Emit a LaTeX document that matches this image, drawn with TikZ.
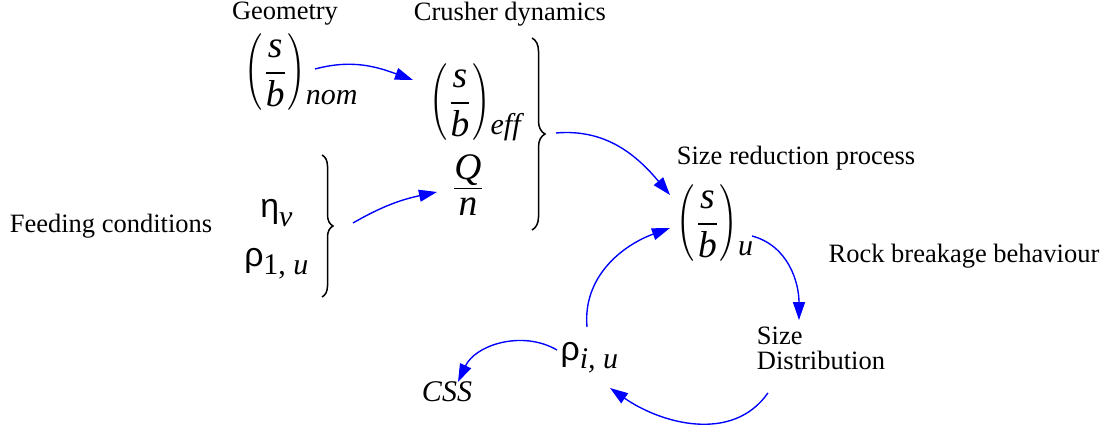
\documentclass[tikz,border=0pt]{standalone}
\usepackage{amsmath}
\usepackage{graphicx}
\usepackage{fontspec}
\setmainfont{Liberation Serif}
\newfontfamily\tms{Liberation Serif}
\newfontfamily\grk{Liberation Sans}
\usetikzlibrary{arrows.meta,calc,decorations.pathreplacing}
\definecolor{Flow}{HTML}{0000FF}
\definecolor{Ink}{HTML}{000000}
\newcommand{\vit}[1]{\hbox{\tms\itshape #1}}
\newcommand{\subtx}[1]{\hbox{\tms\fontsize{12}{14}\selectfont #1}}
\newcommand{\tallpar}[1]{\vcenter{\hbox{\scalebox{0.85}[1.18]{$\nulldelimiterspace=0pt\displaystyle#1$}}}}
\newcommand{\sbrat}[1]{$\displaystyle
  \tallpar{\left(\vphantom{\frac{\vit{s}}{\vit{b}}}\right.}
  \frac{\vit{s}}{\vit{b}}
  \tallpar{\left.\vphantom{\frac{\vit{s}}{\vit{b}}}\right)}
  \raisebox{-9pt}{\subtx{\itshape #1}}$}
\newcommand{\gsym}[2]{$\hbox{\grk\fontsize{13.5}{15}\selectfont #1}_{\subtx{#2}}$}
\tikzset{
  tag/.style={font=\fontsize{10.6}{12.7}\selectfont,text=Ink,inner sep=0pt},
  eqn/.style={font=\fontsize{15}{18}\selectfont,text=Ink,inner sep=0pt},
  grp/.style={decorate,decoration={brace,amplitude=#1},draw=Ink,line width=0.6pt},
  grp/.default=5pt,
  flow/.style={-{Triangle[length=7.2pt,width=4.8pt]},draw=Flow,line width=0.55pt}
}

\begin{document}
\begin{tikzpicture}[x=0.4pt,y=0.4pt]
  \useasboundingbox (0,0) rectangle (1109,432);
  \node[tag] (geo) at (285,418) {Geometry};
  \node[tag] (dyn) at (510,418) {Crusher dynamics};
  \node[eqn] (nom) at (301,359) {\sbrat{nom}};
  \node[eqn] (eff) at (475,329) {\sbrat{eff}};
  \node[eqn] (qn) at (468,247) {$\textstyle\frac{\raisebox{1.5pt}{\vit{Q}}}{\raisebox{-2pt}{\vit{n}}}$};
  \node[tag] (feed) at (111,206) {Feeding conditions};
  \node[eqn] (eta) at (277,219) {\gsym{η}{\itshape v}};
  \node[eqn] (rho1) at (277,168) {\gsym{ρ}{1, \itshape u}};
  \node[tag] (srp) at (796,274) {Size reduction process};
  \node[eqn] (u) at (715,208) {\sbrat{u}};
  \node[tag] (rock) at (964,176) {Rock breakage behaviour};
  \node[tag,font=\fontsize{10.6}{10}\selectfont,align=left] (dist) at (821,84) {Size\\Distribution};
  \node[eqn] (rhoi) at (590,74) {\gsym{ρ}{\itshape i, u}};
  \node[tag] (css) at (447,40) {\fontsize{12}{14}\selectfont\itshape CSS};

  \draw[grp=5.2pt] (532,394) -- (532,202);
  \coordinate (dyntip) at (545,298);
  \draw[grp=4.4pt] (322,277) -- (322,135);
  \coordinate (feedtip) at (333,206);

  \draw[flow] ([shift={(14,4)}]nom.center) to[out=15,in=160] ([shift={(-62,23)}]eff.center);
  \draw[flow] ([shift={(20,3)}]feedtip) to[out=30,in=192] ([shift={(-31,-7)}]qn.center);
  \draw[flow] ([shift={(11,1)}]dyntip) to[out=5,in=130] ([shift={(-45,29)}]u.center);
  \draw[flow] ([shift={(37,-12)}]u.center) to[out=-15,in=90] ([shift={(-22,6)}]dist.north);
  \draw[flow] ([shift={(-53,-23)}]dist.south) to[out=-125,in=-35] ([shift={(20,-30)}]rhoi.center);
  \draw[flow] ([shift={(-3,31)}]rhoi.center) to[out=95,in=200] ([shift={(-45,-4)}]u.center);
  \draw[flow] ([shift={(-33,8)}]rhoi.center) to[out=150,in=65] ([shift={(11,10)}]css.center);
\end{tikzpicture}
\end{document}
